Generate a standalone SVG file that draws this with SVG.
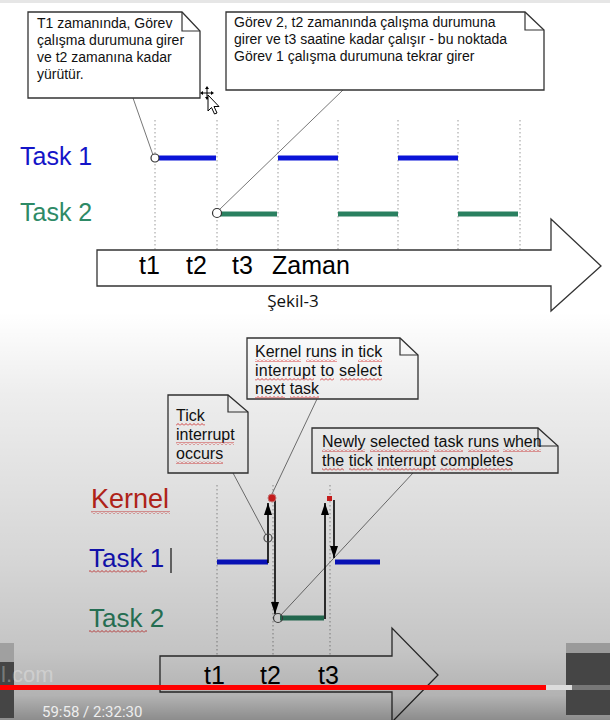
<svg xmlns="http://www.w3.org/2000/svg" width="610" height="720" viewBox="0 0 610 720">
<defs>
<linearGradient id="shade" x1="0" y1="0" x2="0" y2="1">
<stop offset="0" stop-color="#000" stop-opacity="0"/>
<stop offset="0.2" stop-color="#000" stop-opacity="0.07"/>
<stop offset="0.6" stop-color="#000" stop-opacity="0.16"/>
<stop offset="0.83" stop-color="#000" stop-opacity="0.23"/>
<stop offset="0.94" stop-color="#000" stop-opacity="0.3"/>
<stop offset="1" stop-color="#000" stop-opacity="0.45"/>
</linearGradient>
<pattern id="wavy" width="4" height="3" patternUnits="userSpaceOnUse">
<path d="M0 2.5 L2 0.5 L4 2.5" fill="none" stroke="#e03030" stroke-width="0.9"/>
</pattern>
<marker id="ah" viewBox="0 0 12 8" refX="12" refY="4" markerWidth="12" markerHeight="8" markerUnits="userSpaceOnUse" orient="auto">
<path d="M0 0 L12 4 L0 8 Z" fill="#000"/>
</marker>
</defs>
<style>
.note{fill:#fff;stroke:#333;stroke-width:1.3}
.fold{fill:none;stroke:#333;stroke-width:1.2}
.nt{font-family:"Liberation Sans",Arial,sans-serif;font-size:14px;fill:#111}
.nb{font-family:"Liberation Sans",Arial,sans-serif;font-size:16px;fill:#111}
.lbl{font-family:"Liberation Sans",Arial,sans-serif;font-size:25px}
.blue{fill:#1414c8}
.green{fill:#2e8a66}
.red{fill:#c8281c}
.grid{stroke:#999;stroke-width:1;stroke-dasharray:1.5 2.5}
.lead{stroke:#777;stroke-width:1;fill:none}
.tb{stroke:#0a14d8;stroke-width:5}
.tg{stroke:#2a8060;stroke-width:5}
.ar{stroke:#000;stroke-width:1.6;fill:none;marker-end:url(#ah)}
.big{fill:#fff;stroke:#333;stroke-width:1.3}
.ax{font-family:"Liberation Sans",Arial,sans-serif;font-size:25px;fill:#000}
.wv{fill:url(#wavy)}
</style>

<!-- background -->
<rect x="0" y="0" width="610" height="720" fill="#fff"/>
<rect x="0" y="0" width="610" height="3" fill="#e6e6e6"/>

<!-- ===== Top diagram ===== -->
<g id="top-grid">
<line class="grid" x1="155" y1="120" x2="155" y2="250"/>
<line class="grid" x1="217" y1="120" x2="217" y2="250"/>
<line class="grid" x1="278" y1="120" x2="278" y2="250"/>
<line class="grid" x1="338" y1="120" x2="338" y2="250"/>
<line class="grid" x1="398" y1="120" x2="398" y2="250"/>
<line class="grid" x1="458" y1="120" x2="458" y2="250"/>
<line class="grid" x1="520" y1="120" x2="520" y2="250"/>
</g>

<g id="top-connectors">
<line class="lead" x1="133" y1="98" x2="153" y2="155"/>
<line class="lead" x1="343" y1="90" x2="219" y2="210"/>
<line class="tb" x1="157" y1="158" x2="216" y2="158"/>
<line class="tb" x1="278" y1="158" x2="338" y2="158"/>
<line class="tb" x1="398" y1="158" x2="458" y2="158"/>
<line class="tg" x1="220" y1="214" x2="277" y2="214"/>
<line class="tg" x1="338" y1="214" x2="398" y2="214"/>
<line class="tg" x1="458" y1="214" x2="518" y2="214"/>
<circle cx="155" cy="158" r="4" fill="#fff" stroke="#333" stroke-width="1.2"/>
<circle cx="217" cy="213" r="4.5" fill="#fff" stroke="#333" stroke-width="1.2"/>
</g>

<g id="note-t1">
<path class="note" d="M28 12 H182 L200 31 V98 H28 Z"/>
<path class="fold" d="M182 12 V31 H200"/>
<text class="nt" x="37" y="28">T1 zamanında, Görev</text>
<text class="nt" x="37" y="45">çalışma durumuna girer</text>
<text class="nt" x="37" y="62">ve t2 zamanına kadar</text>
<text class="nt" x="37" y="79">yürütür.</text>
</g>

<g id="note-t2">
<path class="note" d="M226 12 H525 L544 30 V90 H226 Z"/>
<path class="fold" d="M525 12 V30 H544"/>
<text class="nt" x="234" y="27">Görev 2, t2 zamanında çalışma durumuna</text>
<text class="nt" x="234" y="44">girer ve t3 saatine kadar çalışır - bu noktada</text>
<text class="nt" x="234" y="61">Görev 1 çalışma durumuna tekrar girer</text>
</g>

<g id="cursor">
<path d="M207 86 L205 89 H209 Z M207 100 L205 97 H209 Z M200 93 L203 91 V95 Z M214 93 L211 91 V95 Z" fill="#000"/>
<line x1="207" y1="88" x2="207" y2="98" stroke="#000" stroke-width="1"/>
<line x1="202" y1="93" x2="212" y2="93" stroke="#000" stroke-width="1"/>
<path d="M208 95 V111 L211.5 107.5 L214.5 114 L217 113 L214 106.5 L219 106.5 Z" fill="#fff" stroke="#000" stroke-width="1"/>
</g>

<g id="label-task1-top"><text class="lbl blue" x="20" y="165">Task 1</text></g>
<g id="label-task2-top"><text class="lbl green" x="20" y="221">Task 2</text></g>

<g id="time-arrow-top">
<path class="big" d="M97 250 H551 V219 L601 266 L551 311 V286 H97 Z"/>
<text class="ax" x="139" y="274">t1</text>
<text class="ax" x="186" y="274">t2</text>
<text class="ax" x="232" y="274">t3</text>
<text class="ax" x="272" y="274">Zaman</text>
</g>
<g id="caption"><text x="293" y="307" text-anchor="middle" font-family="'Open Sans','Noto Sans',sans-serif" font-size="17" fill="#111">Şekil-3</text></g>

<!-- ===== Bottom diagram ===== -->
<g id="bottom-grid">
<line class="grid" x1="217" y1="485" x2="217" y2="656"/>
<line class="grid" x1="273" y1="485" x2="273" y2="656"/>
<line class="grid" x1="330" y1="485" x2="330" y2="656"/>
</g>

<g id="bottom-connectors">
<line class="lead" x1="233" y1="473" x2="266" y2="535"/>
<line class="lead" x1="317" y1="399" x2="272" y2="494"/>
<line class="lead" x1="413" y1="473" x2="280" y2="616"/>
<line class="tb" x1="217" y1="562" x2="268" y2="562"/>
<line class="tb" x1="335" y1="562" x2="380" y2="562"/>
<line class="tg" x1="280" y1="618" x2="324" y2="618"/>
<path class="ar" d="M268 563 V503"/>
<path class="ar" d="M275 500 V614"/>
<path class="ar" d="M325 619 V503"/>
<path class="ar" d="M334 500 V558"/>
<circle cx="272" cy="498" r="4" fill="#e02020" stroke="#d88" stroke-width="1"/>
<rect x="327" y="496" width="5" height="5" fill="#e02020"/>
<circle cx="268" cy="538" r="4" fill="none" stroke="#555" stroke-width="1.2"/>
<circle cx="278" cy="618" r="4.5" fill="none" stroke="#444" stroke-width="1.2"/>
</g>

<g id="note-kernel">
<path class="note" d="M247 338 H400 L418 355 V399 H247 Z"/>
<path class="fold" d="M400 338 V355 H418"/>
<text class="nb" x="255" y="357">Kernel runs in tick</text>
<text class="nb" x="255" y="376" textLength="127" lengthAdjust="spacing">interrupt to select</text>
<text class="nb" x="255" y="394">next task</text>
<rect class="wv" x="255" y="359" width="46" height="3"/>
<rect class="wv" x="306" y="359" width="31" height="3"/>
<rect class="wv" x="358" y="359" width="24" height="3"/>
<rect class="wv" x="255" y="378" width="59" height="3"/>
<rect class="wv" x="320" y="378" width="14" height="3"/>
<rect class="wv" x="340" y="378" width="42" height="3"/>
<rect class="wv" x="255" y="396" width="30" height="3"/>
<rect class="wv" x="290" y="396" width="29" height="3"/>
</g>

<g id="note-tick">
<path class="note" d="M168 395 H228 L248 412 V473 H168 Z"/>
<path class="fold" d="M228 395 V412 H248"/>
<text class="nb" x="176" y="421">Tick</text>
<text class="nb" x="176" y="440">interrupt</text>
<text class="nb" x="176" y="459">occurs</text>
<rect class="wv" x="176" y="423" width="29" height="3"/>
<rect class="wv" x="176" y="442" width="58" height="3"/>
<rect class="wv" x="176" y="461" width="47" height="3"/>
</g>

<g id="note-newly">
<path class="note" d="M312 428 H538 L558 446 V473 H312 Z"/>
<path class="fold" d="M538 428 V446 H558"/>
<text class="nb" x="322" y="447">Newly selected task runs when</text>
<text class="nb" x="322" y="466">the tick interrupt completes</text>
<rect class="wv" x="322" y="449" width="43" height="3"/>
<rect class="wv" x="370" y="449" width="59" height="3"/>
<rect class="wv" x="434" y="449" width="29" height="3"/>
<rect class="wv" x="468" y="449" width="31" height="3"/>
<rect class="wv" x="503" y="449" width="38" height="3"/>
<rect class="wv" x="322" y="468" width="22" height="3"/>
<rect class="wv" x="349" y="468" width="24" height="3"/>
<rect class="wv" x="377" y="468" width="58" height="3"/>
<rect class="wv" x="440" y="468" width="72" height="3"/>
</g>

<g id="label-kernel"><text class="red" x="91" y="508" font-family="'Liberation Sans',Arial,sans-serif" font-size="27">Kernel</text><rect class="wv" x="91" y="511" width="79" height="3"/></g>
<g id="label-task1-bottom"><text class="blue" x="89" y="567" font-family="'Liberation Sans',Arial,sans-serif" font-size="26">Task 1</text><rect class="wv" x="89" y="570" width="58" height="3"/><line x1="171" y1="548" x2="171" y2="573" stroke="#444" stroke-width="1.5"/></g>
<g id="label-task2-bottom"><text class="green" x="89" y="627" font-family="'Liberation Sans',Arial,sans-serif" font-size="26">Task 2</text><rect class="wv" x="89" y="630" width="58" height="3"/></g>

<g id="time-arrow-bottom">
<path class="big" d="M160 656 H392 V628 L438 675 L392 722 V692 H160 Z"/>
<text class="ax" x="204" y="684">t1</text>
<text class="ax" x="260" y="684">t2</text>
<text class="ax" x="318" y="684">t3</text>
</g>

<!-- video dimming overlay -->
<rect x="0" y="312" width="610" height="408" fill="url(#shade)"/>

<!-- video player overlay -->
<g id="player">
<rect x="0" y="643" width="14" height="20" fill="#a0a0a0"/>
<rect x="0" y="662" width="14" height="56" fill="#454545"/>
<rect x="566" y="643" width="44" height="10" fill="#9a9a9a"/>
<rect x="566" y="653" width="44" height="62" fill="#454545"/>
<text x="1" y="682" font-family="'Liberation Sans',Arial,sans-serif" font-size="22" fill="#fff" fill-opacity="0.3">l.com</text>
<rect x="0" y="685" width="546" height="5" fill="#ff0000"/>
<rect x="546" y="685" width="26" height="5" fill="#dcdcdc"/>
<rect x="572" y="685" width="38" height="5" fill="#777"/>
<text x="42" y="717" font-family="'Roboto','Liberation Sans',sans-serif" font-size="15" fill="#eeeeee">59:58 / 2:32:30</text>
</g>
</svg>
